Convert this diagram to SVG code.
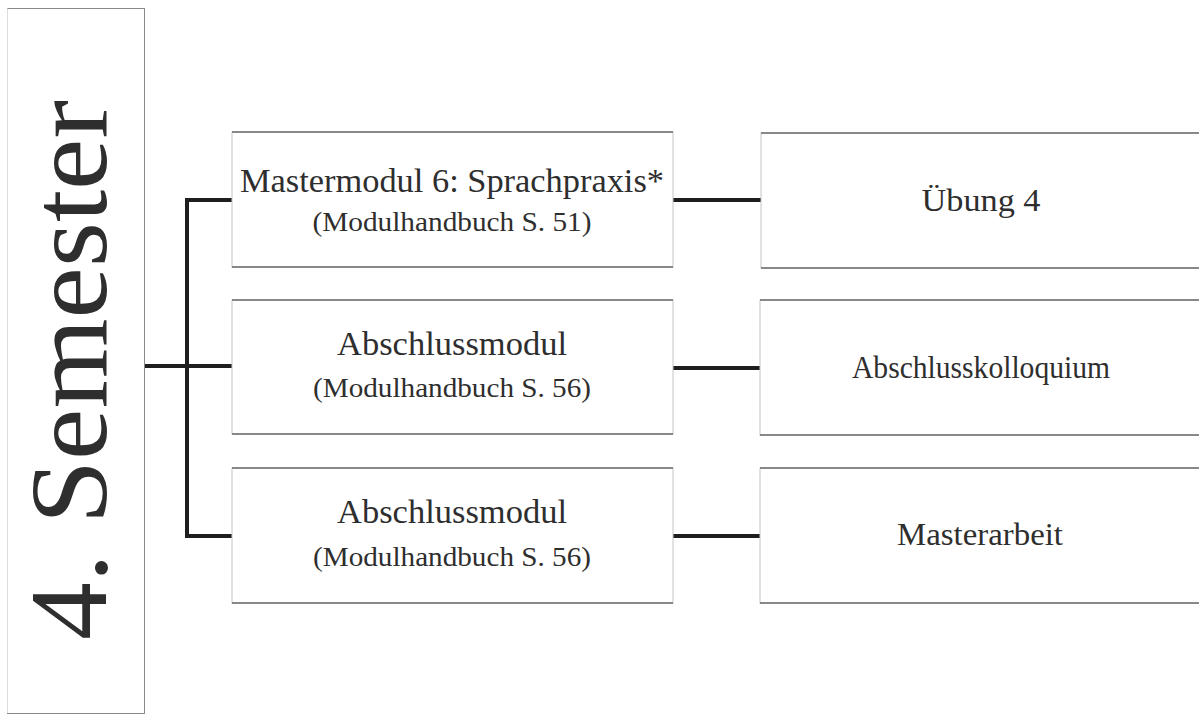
<svg xmlns="http://www.w3.org/2000/svg" width="1199" height="716" viewBox="0 0 1199 716">
  <style>
    .box { fill: #ffffff; stroke: #c4c4c4; stroke-width: 1; }
    .edge { stroke: #6a6a6a; stroke-width: 1.6; fill: none; }
    .t { font-family: "Liberation Serif", "Times New Roman", serif; fill: #2e2e2e; text-anchor: middle; }
    .main { font-size: 34px; }
    .sub { font-size: 28px; }
    .right { font-size: 32px; }
    .conn { stroke: #1e1e1e; stroke-width: 4; fill: none; stroke-linecap: butt; }
  </style>
  <rect width="1199" height="716" fill="#ffffff"/>

  <g id="semester">
    <rect x="7.5" y="8.5" width="137" height="705" fill="#ffffff" stroke="#8a8a8a" stroke-width="1"/>
    <line x1="7.5" y1="8.5" x2="7.5" y2="713" stroke="#dcdcdc" stroke-width="1"/>
    <text class="t" x="0" y="0" font-size="111" fill="#222" transform="translate(106,370) rotate(-90)" textLength="540" lengthAdjust="spacingAndGlyphs">4. Semester</text>
  </g>

  <g id="connectors">
    <line class="conn" x1="145" y1="366" x2="232" y2="366"/>
    <polyline class="conn" points="232,200 187,200 187,536 232,536"/>
    <line class="conn" x1="673" y1="200" x2="761" y2="200"/>
    <line class="conn" x1="673" y1="368" x2="761" y2="368"/>
    <line class="conn" x1="673" y1="536" x2="761" y2="536"/>
  </g>

  <g id="node-mm6">
    <rect class="box" x="232" y="132" width="441" height="135"/>
    <line class="edge" x1="232" y1="132" x2="673" y2="132"/>
    <line class="edge" x1="232" y1="267" x2="673" y2="267"/>
    <text class="t main" x="452" y="192" textLength="424" lengthAdjust="spacingAndGlyphs">Mastermodul 6: Sprachpraxis*</text>
    <text class="t sub" x="452" y="231" textLength="279" lengthAdjust="spacingAndGlyphs">(Modulhandbuch S. 51)</text>
  </g>

  <g id="node-abschluss1">
    <rect class="box" x="232" y="300" width="441" height="134"/>
    <line class="edge" x1="232" y1="300" x2="673" y2="300"/>
    <line class="edge" x1="232" y1="434" x2="673" y2="434"/>
    <text class="t main" x="452" y="355" textLength="230" lengthAdjust="spacingAndGlyphs">Abschlussmodul</text>
    <text class="t sub" x="452" y="397" textLength="278" lengthAdjust="spacingAndGlyphs">(Modulhandbuch S. 56)</text>
  </g>

  <g id="node-abschluss2">
    <rect class="box" x="232" y="468" width="441" height="135"/>
    <line class="edge" x1="232" y1="468" x2="673" y2="468"/>
    <line class="edge" x1="232" y1="603" x2="673" y2="603"/>
    <text class="t main" x="452" y="523" textLength="230" lengthAdjust="spacingAndGlyphs">Abschlussmodul</text>
    <text class="t sub" x="452" y="566" textLength="278" lengthAdjust="spacingAndGlyphs">(Modulhandbuch S. 56)</text>
  </g>

  <g id="node-uebung4">
    <rect class="box" x="761" y="133" width="445" height="135"/>
    <line class="edge" x1="761" y1="133" x2="1199" y2="133"/>
    <line class="edge" x1="761" y1="268" x2="1199" y2="268"/>
    <text class="t right" x="981" y="211" textLength="119" lengthAdjust="spacingAndGlyphs">Übung 4</text>
  </g>

  <g id="node-kolloquium">
    <rect class="box" x="760" y="300" width="445" height="135"/>
    <line class="edge" x1="760" y1="300" x2="1199" y2="300"/>
    <line class="edge" x1="760" y1="435" x2="1199" y2="435"/>
    <text class="t right" x="981" y="378" textLength="258" lengthAdjust="spacingAndGlyphs">Abschlusskolloquium</text>
  </g>

  <g id="node-masterarbeit">
    <rect class="box" x="760" y="468" width="445" height="135"/>
    <line class="edge" x1="760" y1="468" x2="1199" y2="468"/>
    <line class="edge" x1="760" y1="603" x2="1199" y2="603"/>
    <text class="t right" x="980" y="545" textLength="166" lengthAdjust="spacingAndGlyphs">Masterarbeit</text>
  </g>
</svg>
